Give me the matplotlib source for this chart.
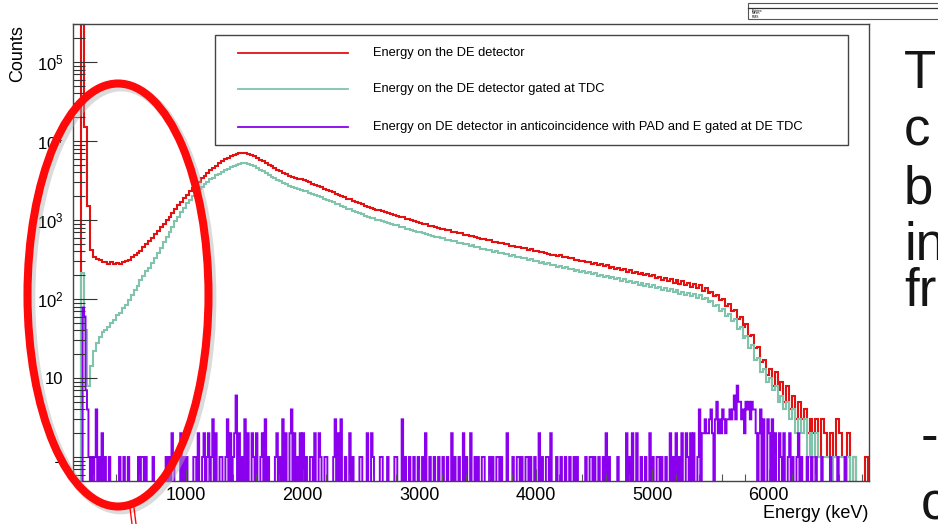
import numpy as np
import matplotlib.pyplot as plt
from matplotlib.patches import Ellipse, Rectangle
from matplotlib.lines import Line2D
from matplotlib.ticker import FixedLocator, FixedFormatter, LogLocator, MultipleLocator, NullFormatter

plt.rcParams["font.family"] = ["Liberation Sans", "DejaVu Sans"]
plt.rcParams["mathtext.fontset"] = "custom"
plt.rcParams["mathtext.rm"] = "Liberation Sans"

# counts per 25 keV bin, 0 - 7000 keV, 20 bins per row
bin_width = 25
de_all = [
    0, 0, 0, 0, 300000, 15000, 1500, 420, 345, 322, 308, 296, 290, 281, 294, 276, 287, 279, 291, 303,
    316, 338, 357, 384, 411, 452, 490, 545, 596, 660, 716, 806, 884, 995, 1095, 1238, 1362, 1540, 1692, 1900,
    2070, 2310, 2530, 2810, 3060, 3360, 3640, 3960, 4240, 4570, 4870, 5210, 5510, 5840, 6120, 6430, 6670, 6910, 7040, 7130,
    7070, 6940, 6690, 6430, 6100, 5820, 5510, 5260, 4980, 4760, 4520, 4330, 4120, 3970, 3790, 3660, 3510, 3410, 3350, 3270,
    3200, 3080, 2990, 2870, 2790, 2670, 2600, 2490, 2420, 2320, 2260, 2160, 2100, 2010, 1960, 1870, 1820, 1740, 1700, 1620,
    1580, 1510, 1470, 1425, 1395, 1350, 1325, 1285, 1260, 1215, 1200, 1155, 1135, 1100, 1080, 1045, 1025, 990, 975, 940,
    925, 895, 880, 850, 835, 805, 800, 772, 768, 742, 738, 712, 708, 681, 679, 655, 651, 627, 625, 603,
    600, 578, 577, 556, 553, 533, 531, 512, 510, 493, 492, 474, 473, 455, 457, 440, 438, 421, 424, 406,
    405, 391, 396, 378, 376, 365, 362, 351, 356, 338, 344, 327, 331, 316, 314, 301, 303, 291, 290, 280,
    282, 268, 275, 259, 266, 249, 258, 240, 248, 230, 240, 222, 231, 214, 223, 206, 216, 199, 209, 193,
    199, 184, 192, 176, 186, 168, 180, 161, 174, 155, 169, 149, 161, 143, 157, 137, 150, 128, 138, 120,
    124, 109, 112, 96, 99, 82, 86, 70, 72, 56, 60, 44, 48, 34, 35, 24, 25, 16, 17, 11,
    13, 8, 12, 7, 9, 5, 8, 4, 6, 3, 5, 3, 4, 2, 3, 2, 3, 1, 3, 2,
    1, 2, 1, 3, 2, 1, 1, 2, 0, 1, 0, 0, 0, 1, 0, 0, 0, 0, 0, 0,
]
de_tdc = [
    0, 0, 0, 0, 215, 40, 8, 14, 22, 28, 33, 38, 41, 44, 50, 54, 62, 67, 77, 85,
    98, 111, 129, 147, 172, 194, 224, 250, 288, 328, 388, 442, 524, 606, 715, 826, 965, 1105, 1275, 1435,
    1625, 1805, 2015, 2215, 2440, 2630, 2860, 3050, 3270, 3450, 3670, 3850, 4070, 4250, 4470, 4640, 4840, 4990, 5140, 5220,
    5260, 5170, 5030, 4790, 4580, 4330, 4130, 3910, 3740, 3540, 3400, 3220, 3100, 2950, 2850, 2720, 2640, 2530, 2470, 2400,
    2350, 2300, 2220, 2150, 2090, 2000, 1950, 1860, 1815, 1735, 1695, 1615, 1575, 1500, 1470, 1395, 1365, 1300, 1275, 1210,
    1180, 1130, 1105, 1065, 1050, 1005, 995, 960, 948, 910, 900, 862, 855, 820, 812, 780, 772, 738, 735, 700,
    705, 676, 670, 642, 636, 608, 610, 584, 586, 560, 563, 538, 540, 516, 519, 495, 498, 475, 479, 456,
    452, 432, 435, 415, 418, 397, 401, 382, 385, 367, 371, 352, 358, 340, 344, 327, 331, 314, 319, 302,
    304, 289, 293, 278, 283, 267, 272, 257, 262, 247, 252, 238, 243, 229, 235, 220, 227, 212, 219, 205,
    211, 198, 204, 190, 196, 183, 190, 177, 183, 170, 177, 164, 171, 158, 165, 152, 159, 146, 153, 140,
    149, 137, 144, 131, 138, 125, 133, 121, 129, 116, 124, 112, 120, 108, 115, 104, 111, 99, 104, 91,
    94, 81, 84, 71, 74, 61, 65, 53, 56, 42, 44, 32, 34, 24, 26, 17, 18, 12, 13, 9,
    10, 7, 8, 5, 6, 4, 5, 3, 4, 2, 3, 2, 3, 1, 2, 1, 2, 1, 1, 1,
    1, 0, 1, 1, 1, 1, 0, 1, 0, 1, 0, 0, 0, 0, 0, 0, 0, 0, 0, 0,
]

# anticoincidence spectrum has finer bins: 12.5 keV, 40 bins per row
anti_bin_width = 12.5
de_anti = [
    0, 0, 0, 0, 0, 0, 0, 0, 0, 78, 60, 7, 4, 1, 0, 1, 0, 1, 4, 0, 1, 0, 2, 0, 1, 0, 0, 1, 0, 0, 0, 0, 0, 0, 1, 0, 0, 1, 0, 0,
    1, 0, 0, 0, 0, 0, 0, 1, 0, 1, 1, 0, 1, 0, 0, 0, 0, 1, 0, 0, 0, 0, 0, 0, 0, 0, 1, 0, 1, 0, 2, 1, 0, 0, 0, 0, 2, 0, 1, 0,
    1, 0, 0, 0, 0, 1, 1, 0, 2, 0, 0, 1, 2, 0, 1, 2, 0, 1, 3, 0, 2, 0, 0, 1, 1, 0, 0, 1, 3, 0, 2, 0, 1, 2, 6, 0, 2, 0, 1, 0,
    3, 0, 2, 0, 0, 2, 1, 0, 2, 0, 0, 1, 2, 0, 3, 0, 1, 0, 0, 0, 0, 1, 2, 0, 1, 0, 3, 0, 2, 0, 0, 2, 4, 0, 2, 0, 1, 0, 2, 0,
    2, 0, 1, 0, 0, 1, 1, 0, 2, 0, 0, 2, 1, 0, 0, 1, 1, 0, 0, 0, 0, 1, 3, 0, 2, 0, 3, 0, 0, 1, 0, 0, 2, 0, 1, 0, 0, 0, 0, 1,
    1, 0, 0, 0, 2, 0, 0, 2, 1, 0, 0, 0, 0, 1, 1, 0, 0, 0, 1, 0, 0, 0, 0, 1, 1, 0, 0, 0, 3, 0, 1, 0, 0, 1, 0, 0, 1, 0, 0, 1,
    0, 0, 1, 0, 2, 0, 0, 1, 0, 0, 1, 0, 0, 1, 0, 0, 1, 0, 0, 1, 0, 0, 2, 0, 1, 0, 0, 1, 0, 0, 2, 0, 1, 0, 0, 2, 0, 0, 1, 0,
    1, 0, 0, 1, 1, 0, 0, 0, 1, 0, 1, 0, 0, 1, 1, 0, 1, 0, 0, 0, 2, 0, 0, 0, 1, 0, 0, 1, 1, 0, 1, 0, 0, 1, 1, 0, 1, 0, 0, 1,
    0, 0, 2, 0, 1, 0, 0, 1, 1, 0, 2, 0, 0, 0, 1, 0, 0, 1, 0, 0, 1, 0, 0, 1, 0, 0, 1, 0, 1, 0, 0, 0, 0, 0, 1, 0, 0, 1, 1, 0,
    1, 0, 0, 1, 0, 0, 1, 0, 2, 0, 1, 0, 0, 0, 0, 0, 1, 0, 0, 0, 0, 0, 2, 0, 1, 0, 2, 0, 0, 2, 0, 0, 1, 0, 0, 1, 0, 0, 2, 0,
    1, 0, 0, 1, 1, 0, 1, 0, 0, 1, 0, 0, 2, 0, 1, 0, 2, 0, 1, 0, 2, 0, 0, 2, 1, 0, 2, 0, 2, 0, 0, 1, 4, 0, 2, 2, 3, 2, 2, 3,
    4, 2, 0, 3, 5, 2, 3, 2, 4, 3, 2, 3, 3, 4, 3, 4, 6, 3, 8, 5, 5, 3, 4, 2, 5, 4, 5, 3, 5, 4, 4, 2, 0, 2, 4, 0, 3, 0, 0, 3,
    2, 0, 3, 0, 2, 0, 0, 2, 1, 0, 2, 0, 0, 1, 2, 0, 1, 0, 0, 1, 2, 0, 1, 0, 0, 0, 1, 0, 0, 1, 0, 0, 1, 0, 0, 0, 1, 0, 0, 0,
    0, 0, 1, 0, 0, 0, 0, 1, 0, 0, 0, 0, 1, 0, 0, 0, 0, 0, 0, 0, 0, 0, 0, 0, 0, 0, 0, 0, 0, 0, 0, 0, 0, 0, 0, 0, 0, 0, 0, 0,
]

legend_labels = [
    "Energy on the DE detector",
    "Energy on the DE detector gated at TDC",
    "Energy on DE detector in anticoincidence with PAD and E gated at DE TDC",
]
colors = ["#e31212", "#80c4ac", "#8a00ee"]

x_ticks = [1000, 2000, 3000, 4000, 5000, 6000]
y_ticks = [1, 10, 100, 1000, 10000, 100000]
y_tick_labels = ["1", "10", r"$\mathregular{10^{2}}$", r"$\mathregular{10^{3}}$",
                 r"$\mathregular{10^{4}}$", r"$\mathregular{10^{5}}$"]
stats_rows = ["Entries", "Mean", "RMS"]
slide_text = ["T", "c", "b", "in", "fr", "-", "c"]

W, H = 938, 524


def fx(x):
    return x / W


def fy(y):
    return 1 - y / H


fig = plt.figure(figsize=(W / 100, H / 100), dpi=100)
ax = fig.add_axes([fx(73), fy(481), (869 - 73) / W, (481 - 24) / H])

hists = [(de_all, bin_width, 1.5), (de_tdc, bin_width, 1.5), (de_anti, anti_bin_width, 1.4)]
for (vals, width, lw), col in zip(hists, colors):
    v = np.asarray(vals, dtype=float)
    v[v <= 0] = 1e-3  # empty bins drop to the bottom, like ROOT
    edges = np.arange(len(v) + 1) * width
    ax.stairs(v, edges, baseline=None, color=col, lw=lw)

ax.set_yscale("log")
ax.set_xlim(30, 6860)
ax.set_ylim(0.497, 3.03e5)

ax.yaxis.set_major_locator(FixedLocator(y_ticks))
ax.yaxis.set_major_formatter(FixedFormatter(y_tick_labels))
ax.yaxis.set_minor_locator(LogLocator(base=10, subs=np.arange(2, 10), numticks=30))
ax.yaxis.set_minor_formatter(NullFormatter())
ax.set_xticks(x_ticks)
ax.set_xticklabels([str(t) for t in x_ticks])
ax.xaxis.set_minor_locator(MultipleLocator(200))

ax.tick_params(axis="y", which="major", direction="in", length=17, width=0.8,
               pad=7, labelsize=12, color="#333333")
ax.tick_params(axis="y", which="minor", direction="in", length=8.5, width=0.8, color="#333333")
ax.tick_params(axis="x", which="major", direction="in", length=9, width=0.8,
               pad=4, labelsize=13, color="#555555")
ax.tick_params(axis="x", which="minor", direction="in", length=5, width=0.8, color="#555555")
for s in ax.spines.values():
    s.set_color("#444444")
    s.set_linewidth(1.0)

fig.text(fx(17.5), fy(25), "Counts", rotation=90, ha="center", va="top", fontsize=13)
fig.text(fx(868), fy(518), "Energy (keV)", ha="right", va="baseline", fontsize=13)

# legend box
fig.add_artist(Rectangle((fx(215), fy(145)), (848 - 215) / W, 110 / H, transform=fig.transFigure,
                         facecolor="white", edgecolor="#444444", lw=1.0, zorder=5))
for yy, lab, col in zip([53, 89, 127], legend_labels, colors):
    fig.add_artist(Line2D([fx(238), fx(348)], [fy(yy), fy(yy)], transform=fig.transFigure,
                          color=col, lw=1.3, zorder=6))
    fig.text(fx(373), fy(yy), lab, ha="left", va="center", fontsize=9.3, zorder=6)

# stats box (top right, cut by the slide edge)
fig.add_artist(Rectangle((fx(748), fy(19)), (945 - 748) / W, 16 / H, transform=fig.transFigure,
                         facecolor="white", edgecolor="#555555", lw=0.8, zorder=5))
fig.add_artist(Line2D([fx(748), fx(940)], [fy(7.5), fy(7.5)], transform=fig.transFigure,
                      color="#333333", lw=0.9, zorder=6))
for yy, lab in zip([10.5, 13.5, 16.5], stats_rows):
    fig.text(fx(752), fy(yy), lab, ha="left", va="center", fontsize=2.4, zorder=6)

# slide text on the right, clipped by the edge
for xx, yy, t in zip([904, 904, 904, 904, 904, 921, 921],
                     [88, 145, 203, 260, 306, 452, 520], slide_text):
    fig.text(fx(xx), fy(yy), t, ha="left", va="baseline", fontsize=38, color="#151515")

# hand-drawn red ellipse with a soft shadow
fig.add_artist(Ellipse((fx(121), fy(298)), 181 / W, 423 / H, transform=fig.transFigure,
                       fill=False, edgecolor="#b0b0b0", lw=7, alpha=0.45, zorder=9))
fig.add_artist(Ellipse((fx(118), fy(295)), 181 / W, 423 / H, transform=fig.transFigure,
                       fill=False, edgecolor="#ff0a0a", lw=5.8, zorder=10))
for dx in (0, 4):
    fig.add_artist(Line2D([fx(130 + dx), fx(132 + dx)], [fy(508), fy(524)], transform=fig.transFigure,
                          color="#ff0a0a", lw=1.0, zorder=10))

fig.savefig("out.png", dpi=100)
